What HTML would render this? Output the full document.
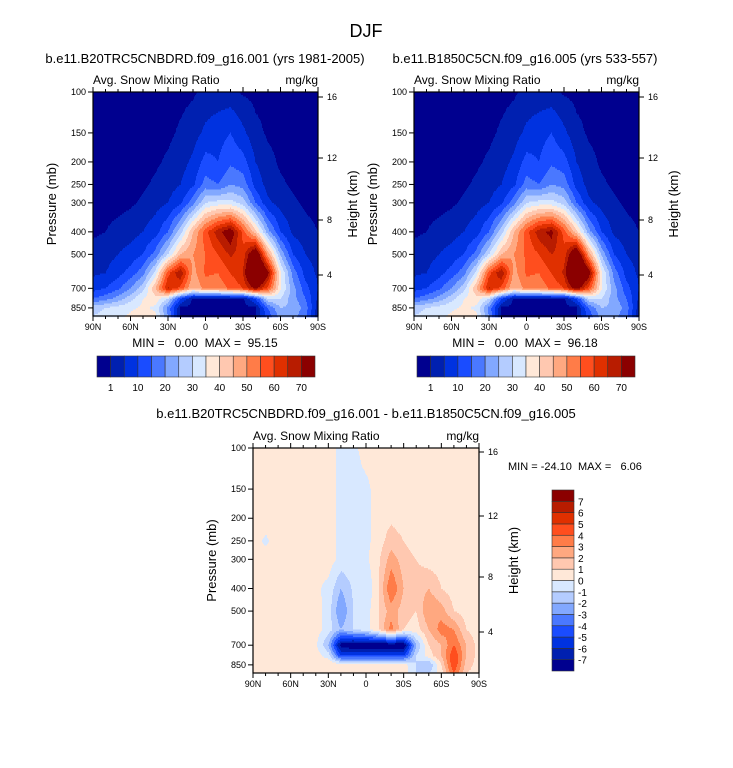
<!DOCTYPE html>
<html><head><meta charset="utf-8">
<style>
body{margin:0;background:#fff;}
svg{display:block;font-family:"Liberation Sans",sans-serif;}
text{white-space:pre;}
</style></head>
<body>
<svg id="fig" width="733" height="768" xmlns="http://www.w3.org/2000/svg">
<rect width="733" height="768" fill="#fff"/>
<text x="366" y="37" font-size="18" text-anchor="middle">DJF</text>
</svg>
<script>
// ===== data =====
const latLabels = ["90N","60N","30N","0","30S","60S","90S"];
const pressureTicks = [100,150,200,250,300,400,500,700,850];
const heightTicks = [16,12,8,4];
const pressureRows = [100,150,200,250,300,400,500,600,700,775,850,925];
// 19 latitudes 90N..90S every 10 deg
const snowCase1 = [
[0,0,0,0,0,0,0,0,0.5,2,2,2,0.5,0,0,0,0,0,0],
[0,0,0,0,0,0,0.3,1.5,3,6,8,10,6,2,0.5,0,0,0,0],
[0,0,0,0,0,0.5,1.5,3,6,12,10,14,12,5,2,0.5,0,0,0],
[0,0,0,0,0.5,1.5,3,5,9,17,15,20,18,8,3,1.5,0.5,0,0],
[0,0,0,0.5,1.5,3,5,9,18,30,32,32,28,15,6,3,1.5,0.5,0],
[0.5,1,2,3,5,8,15,28,45,58,68,75,58,42,22,10,4,2,1],
[2,3,5,7,10,17,30,45,50,55,60,66,62,80,48,24,10,5,3],
[4,5,8,12,18,32,58,70,48,56,55,60,65,95,72,36,18,8,4],
[8,10,14,20,28,45,66,58,45,52,52,56,60,72,58,36,22,12,5],
[15,18,22,28,35,38,30,10,0,0,0,0,0,10,30,30,22,15,4],
[28,30,32,34,36,34,18,0,0,0,0,0,0,0,15,25,24,18,2],
[30,32,34,36,38,36,20,0,0,0,0,0,0,0,12,22,22,16,1]
];
const snowCase2 = [
[0,0,0,0,0,0,0,0,0.5,2,2,2,0.5,0,0,0,0,0,0],
[0,0,0,0,0,0,0.3,1.5,3,6,8,10,6,2,0.5,0,0,0,0],
[0,0,0,0,0,0.5,1.5,3,6,12,10,14,12,5,2,0.5,0,0,0],
[0,0,0,0,0.5,1.5,3,5,9,17,15,20,18,8,3,1.5,0.5,0,0],
[0,0,0,0.5,1.5,3,5,9,18,30,32,32,28,15,6,3,1.5,0.5,0],
[0.5,1,2,3,5,8,15,28,45,58,68,72,58,42,22,10,4,2,1],
[2,3,5,7,10,17,30,45,50,56,60,65,62,82,48,24,10,5,3],
[4,5,8,12,18,32,58,70,48,56,55,60,66,96,74,36,18,8,4],
[8,10,14,20,28,45,66,58,45,52,52,56,60,74,58,36,22,12,5],
[15,18,22,28,35,38,30,10,0,0,0,0,0,10,30,30,22,15,4],
[28,30,32,34,36,34,18,0,0,0,0,0,0,0,15,25,24,18,2],
[30,32,34,36,38,36,20,0,0,0,0,0,0,0,12,22,22,16,1]
];
const snowDiff = [
[0.5,0.5,0.5,0.3,0.5,0.5,0.5,-0.3,-0.3,0.5,0.5,0.5,0.5,0.5,0.5,0.5,0.5,0.5,0.5],
[0.5,0.5,0.5,0.5,0.5,0.5,0.5,-0.3,-0.4,-0.3,0.5,0.5,0.5,0.5,0.5,0.5,0.5,0.5,0.5],
[0.5,0.5,0.5,0.5,0.5,0.5,0.5,-0.3,-0.4,-0.3,0.5,0.8,0.5,0.5,0.5,0.5,0.5,0.5,0.5],
[0.5,-0.2,0.5,0.5,0.5,0.5,0.5,-0.3,-0.4,-0.3,0.5,1.5,1,0.5,0.5,0.5,0.5,0.5,0.5],
[0.5,0.5,0.5,0.5,0.5,0.5,0.5,-0.3,-0.4,-0.2,0.8,2.5,1.5,1,0.5,0.5,0.5,0.5,0.5],
[0.5,0.5,0.5,0.5,0.5,0.2,-0.3,-2,-0.8,-1,1,4,2,1.5,2,1,0.5,0.5,0.5],
[0.5,0.5,0.5,0.5,0.2,0.5,-0.5,-3,-1,-0.5,1,2.5,1.5,1,3,2.5,1,0.5,0.5],
[0.5,0.5,0.5,0.3,0.5,0.5,-0.5,-2,-1,-0.5,1,3.5,1,0.5,2,3.5,3,1,0.5],
[0.5,0.5,0.5,0.5,0.2,0.2,-2,-7.5,-8,-8,-8,-8,-8,-2,1,2,4,2,0.5],
[0.5,0.5,0.5,0.5,0.5,0.5,-0.5,-5,-5,-5,-5,-5,-5,-1,0.5,2,5,2,0.5],
[0.5,0.5,0.5,0.5,0.5,0.5,1,0.5,0.5,0.5,0.5,0.5,0.5,-1,-2,1,5,1.5,0.5],
[0.5,0.5,0.5,0.5,0.5,0.5,0.5,0.5,0.5,0.5,0.5,0.5,0.5,-1,-1,0.5,4,1,0.5]
];
const snowLevels = [1,5,10,15,20,25,30,35,40,45,50,55,60,65,70];
const snowLabels = ["1","10","20","30","40","50","60","70"];
const diffLevels = [-7,-6,-5,-4,-3,-2,-1,0,1,2,3,4,5,6,7];
const palette = ["#00008f","#0020b0","#0032e0","#1a4cff","#4a78ff","#82a8ff","#b4ccff","#d8e8ff","#ffe8d8","#ffc8b0","#ffa880","#ff7c48","#ff4e1e","#e03000","#b81c00","#8b0000"];

// ===== drawing =====
const NS="http://www.w3.org/2000/svg";
const svg=document.getElementById('fig');
function mk(tag,attrs,parent){const e=document.createElementNS(NS,tag);for(const k in attrs)e.setAttribute(k,attrs[k]);(parent||svg).appendChild(e);return e;}
const PBOT=921, LN=Math.log(PBOT/100);
function sample(grid,li,lnp){
  const lp=pressureRows.map(p=>Math.log(p));
  let r=0;while(r<lp.length-2&&lnp>lp[r+1])r++;
  let ty=(lnp-lp[r])/(lp[r+1]-lp[r]);ty=Math.max(0,Math.min(1,ty));
  let c=Math.min(17,Math.floor(li));let tx=li-c;
  const a=grid[r][c]*(1-tx)+grid[r][c+1]*tx;
  const b=grid[r+1][c]*(1-tx)+grid[r+1][c+1]*tx;
  return a*(1-ty)+b*ty;
}
function levelIndex(v,levels){let i=0;while(i<levels.length&&v>=levels[i])i++;return i;}
function txt(x,y,s,size,anchor,name,extra){const t=mk('text',Object.assign({x:x,y:y,'font-size':size,'text-anchor':anchor||'start'},extra||{}));t.textContent=s;return t;}

function drawPlot(x0,y0,w,h,grid,levels,hY,name){
  const g=mk('g',{});
  
  
  const rh=1.5;
  for(let py=0;py<h;py+=rh){
    const lnp=Math.log(100)+(py+rh/2)/h*LN;
    let start=0,cur=-1;
    for(let px=0;px<=w;px++){
      let idx=-2;
      if(px<w){idx=levelIndex(sample(grid,(px+0.5)/w*18,lnp),levels);}
      if(idx!==cur){
        if(cur>=0){const r=mk('rect',{x:x0+start,y:y0+py,width:px-start,height:rh+0.3,fill:palette[cur]},g);
          
          }
        start=px;cur=idx;
      }
    }
  }
  mk('rect',{x:x0,y:y0,width:w,height:h,fill:'none',stroke:'#000','stroke-width':1.2},g);
  for(let i=0;i<=18;i++){const x=x0+i/18*w;const L=(i%3===0)?5:3;
    mk('line',{x1:x,x2:x,y1:y0+h,y2:y0+h+L,stroke:'#000'},g);
    mk('line',{x1:x,x2:x,y1:y0,y2:y0-L,stroke:'#000'},g);}
  latLabels.forEach((s,i)=>txt(x0+i/6*w,y0+h+14,s,9,'middle','x-tick-label'));
  pressureTicks.forEach(p=>{const y=y0+Math.log(p/100)/LN*h;
    mk('line',{x1:x0-5,x2:x0,y1:y,y2:y,stroke:'#000'},g);
    txt(x0-7,y+3,String(p),9,'end','y-tick-label');});
  heightTicks.forEach((k,i)=>{const y=hY[i];
    mk('line',{x1:x0+w,x2:x0+w+5,y1:y,y2:y,stroke:'#000'},g);
    txt(x0+w+9,y+3,String(k),9,'start','height-tick-label');});
  txt(x0,y0-8,'Avg. Snow Mixing Ratio',12,'start','subtitle-left');
  txt(x0+w,y0-8,'mg/kg',12,'end','units-label');
  txt(x0-37,y0+h/2,'Pressure (mb)',13,'middle','y-axis-title',{transform:`rotate(-90 ${x0-37} ${y0+h/2})`});
  txt(x0+w+39,y0+h/2,'Height (km)',13,'middle','y2-axis-title',{transform:`rotate(-90 ${x0+w+39} ${y0+h/2})`});
}
function hbar(x0,y0,w,h,labels,name){
  const g=mk('g',{});
  const bw=w/16;
  palette.forEach((c,i)=>{const r=mk('rect',{x:x0+i*bw,y:y0,width:bw,height:h,fill:c,stroke:'#333','stroke-width':0.6},g);
    });
  labels.forEach((s,i)=>txt(x0+(1+2*i)*bw,y0+h+14,s,10,'middle','colorbar-label'));
}
function vbar(x0,y0,w,h,levels,name){
  const g=mk('g',{});
  const bh=h/16;
  palette.forEach((c,i)=>{const r=mk('rect',{x:x0,y:y0+h-(i+1)*bh,width:w,height:bh,fill:c,stroke:'#333','stroke-width':0.6},g);
    });
  levels.forEach((v,i)=>txt(x0+w+4,y0+h-(i+1)*bh+4,String(v),10,'start','colorbar-label'));
}

txt(205,63,'b.e11.B20TRC5CNBDRD.f09_g16.001 (yrs 1981-2005)',13,'middle','panel1-title');
txt(525,63,'b.e11.B1850C5CN.f09_g16.005 (yrs 533-557)',13,'middle','panel2-title');
drawPlot(93,92,225,224,snowCase1,snowLevels,[97,158,220,275],'panel1-contour');
drawPlot(414,92,225,224,snowCase2,snowLevels,[97,158,220,275],'panel2-contour');
txt(205,347,'MIN =   0.00  MAX =  95.15',12,'middle','panel1-minmax');
txt(525,347,'MIN =   0.00  MAX =  96.18',12,'middle','panel2-minmax');
hbar(97,356,218,21,snowLabels,'panel1-colorbar');
hbar(417,356,218,21,snowLabels,'panel2-colorbar');
txt(366,418,'b.e11.B20TRC5CNBDRD.f09_g16.001 - b.e11.B1850C5CN.f09_g16.005',13,'middle','panel3-title');
drawPlot(253,448,226,225,snowDiff,diffLevels,[452,516,577,632],'panel3-contour');
txt(508,470,'MIN = -24.10  MAX =   6.06',11,'start','panel3-minmax');
vbar(552,490,22,181,diffLevels,'panel3-colorbar');
</script>
</body></html>
